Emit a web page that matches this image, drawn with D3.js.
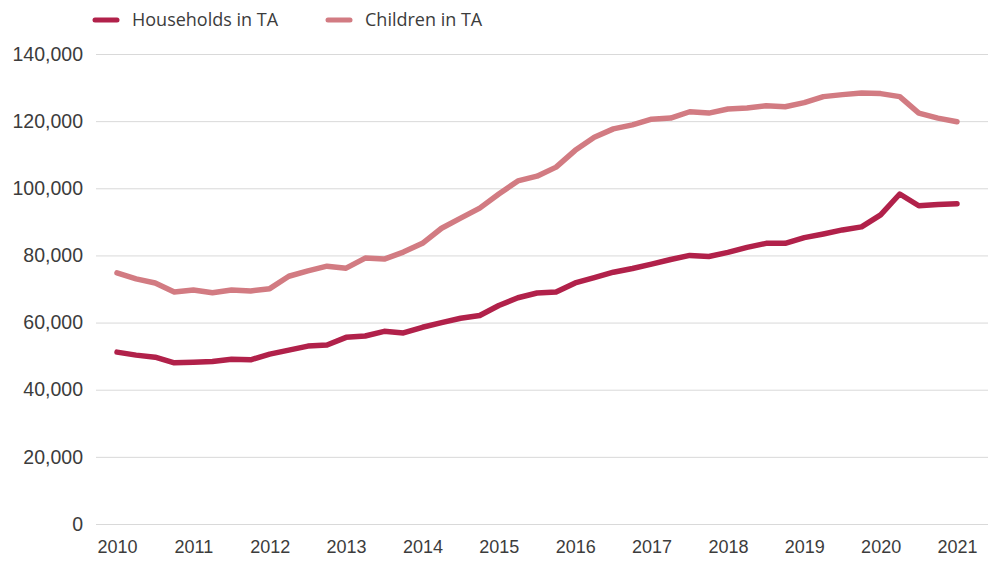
<!DOCTYPE html>
<html>
<head>
<meta charset="utf-8">
<script src="https://cdn.jsdelivr.net/npm/d3@7"></script>
<style>
  body { margin: 0; background: #fff; }
  svg { display: block; font-family: "Open Sans", "Noto Sans", sans-serif; }
  .grid line { stroke: #d9d9d9; stroke-width: 1; }
  .grid text { fill: #3c3c3c; font-size: 19.5px; }
  .xaxis text { fill: #3c3c3c; font-size: 18px; }
</style>
</head>
<body>
<svg></svg>
<script>
// quarterly, 2010 Q1 .. 2021 Q1
const years = [2010, 2011, 2012, 2013, 2014, 2015, 2016, 2017, 2018, 2019, 2020, 2021];
const quarters = ['Q1', 'Q2', 'Q3', 'Q4'];

const households = [51200, 50300, 49700, 48000, 48200, 48400, 49100, 48900, 50600, 51800,
  53000, 53300, 55600, 56000, 57400, 56900, 58600, 60000, 61300, 62100,
  65100, 67400, 68800, 69100, 71800, 73400, 75000, 76100, 77400, 78800,
  80000, 79700, 80900, 82400, 83600, 83600, 85300, 86400, 87600, 88500,
  92100, 98300, 94800, 95200, 95400];

const children = [74800, 73000, 71800, 69100, 69700, 68900, 69700, 69400, 70100, 73800,
  75400, 76800, 76200, 79200, 78900, 81000, 83600, 88100, 91100, 94100,
  98300, 102200, 103600, 106300, 111300, 115200, 117700, 118900, 120600, 120900,
  122800, 122400, 123600, 123900, 124600, 124300, 125500, 127300, 127900, 128400,
  128200, 127300, 122400, 120900, 119800];

const yTicks = [0, 20000, 40000, 60000, 80000, 100000, 120000, 140000];

const seriesNames = ['Households in TA', 'Children in TA'];
const colors = ['#b1214a', '#d27b82'];

// category labels, e.g. "2010 Q1"
let periods = [];
years.forEach(y => quarters.forEach(q => periods.push(y + ' ' + q)));
periods = periods.slice(0, households.length);

const size = {w: 988, h: 563};
const margin = {t: 54, r: 0, b: 39, l: 96};
const inner = {w: size.w - margin.l - margin.r, h: size.h - margin.t - margin.b};

const svg = d3.select('svg')
    .attr('width', size.w)
    .attr('height', size.h);

const g = svg.append('g')
    .attr('transform', 'translate(' + margin.l + ',' + margin.t + ')');

const x = d3.scalePoint()
    .domain(periods)
    .range([21, 861]);

const y = d3.scaleLinear()
    .domain([0, 140000])
    .range([inner.h, 0]);

// horizontal gridlines + y labels
g.append('g')
    .classed('grid', true)
    .call(d3.axisLeft(y)
        .tickValues(yTicks)
        .tickSize(-inner.w)
        .tickPadding(13)
        .tickFormat(d3.format(',')))
    .call(ax => ax.select('.domain').remove());

// year labels under the first quarter of each year
g.append('g')
    .classed('xaxis', true)
    .attr('transform', 'translate(0,' + inner.h + ')')
    .call(d3.axisBottom(x)
        .tickValues(periods.filter(p => p.endsWith('Q1')))
        .tickSize(0)
        .tickPadding(16)
        .tickFormat(p => p.slice(0, 4)))
    .call(ax => ax.select('.domain').remove());

const line = d3.line()
    .x((d, i) => x(periods[i]))
    .y(d => y(d));

[children, households].forEach((vals, k) => {
    g.append('path')
        .datum(vals)
        .attr('fill', 'none')
        .attr('stroke', k === 0 ? colors[1] : colors[0])
        .attr('stroke-width', 5.5)
        .attr('stroke-linejoin', 'round')
        .attr('stroke-linecap', 'round')
        .attr('d', line);
});

// legend
const legendX = [95, 328];
const legend = svg.append('g');
seriesNames.forEach((name, i) => {
    const item = legend.append('g')
        .attr('transform', 'translate(' + legendX[i] + ',20)');
    item.append('line')
        .attr('x1', 0).attr('x2', 22)
        .attr('stroke', colors[i])
        .attr('stroke-width', 5)
        .attr('stroke-linecap', 'round');
    item.append('text')
        .attr('x', 37)
        .attr('dy', '0.35em')
        .attr('fill', '#3c3c3c')
        .style('font-size', '18px')
        .text(name);
});
</script>
</body>
</html>
